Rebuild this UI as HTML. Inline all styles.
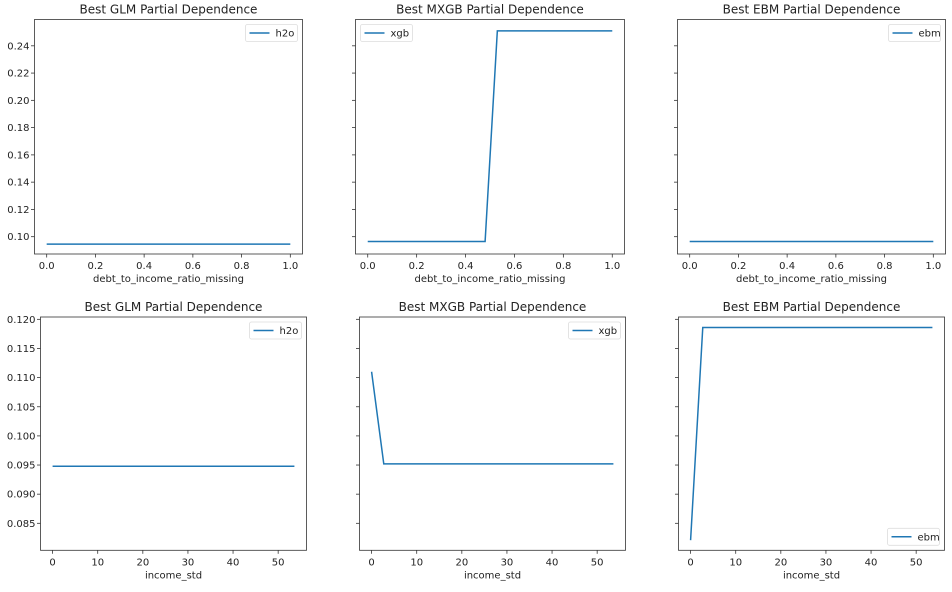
<!DOCTYPE html>
<html><head><meta charset="utf-8"><style>
body{margin:0;background:#fff;}
svg text{font-family:"DejaVu Sans","Liberation Sans",sans-serif;fill:#222;}
</style></head><body>
<svg id="fig" width="952" height="587" xmlns="http://www.w3.org/2000/svg"></svg>
<script>
const titles = ["Best GLM Partial Dependence","Best MXGB Partial Dependence","Best EBM Partial Dependence","Best GLM Partial Dependence","Best MXGB Partial Dependence","Best EBM Partial Dependence"];
const seriesNames = ["h2o","xgb","ebm","h2o","xgb","ebm"];
const xLabels = ["debt_to_income_ratio_missing","debt_to_income_ratio_missing","debt_to_income_ratio_missing","income_std","income_std","income_std"];
const glmTopX = [0, 1];
const glmTopY = [0.0945, 0.0945];
const xgbTopX = [0, 0.48, 0.53, 1];
const xgbTopY = [0.0965, 0.0965, 0.251, 0.251];
const ebmTopX = [0, 1];
const ebmTopY = [0.0965, 0.0965];
const glmBotX = [0, 53.6];
const glmBotY = [0.0948, 0.0948];
const xgbBotX = [0, 2.7, 53.6];
const xgbBotY = [0.111, 0.0952, 0.0952];
const ebmBotX = [0, 2.7, 53.6];
const ebmBotY = [0.0821, 0.1186, 0.1186];
const topXTicks = [0, 0.2, 0.4, 0.6, 0.8, 1.0];
const topXTickLabels = ["0.0","0.2","0.4","0.6","0.8","1.0"];
const topYTicks = [0.10,0.12,0.14,0.16,0.18,0.20,0.22,0.24];
const topYTickLabels = ["0.10","0.12","0.14","0.16","0.18","0.20","0.22","0.24"];
const botXTicks = [0,10,20,30,40,50];
const botXTickLabels = ["0","10","20","30","40","50"];
const botYTicks = [0.085,0.090,0.095,0.100,0.105,0.110,0.115,0.120];
const botYTickLabels = ["0.085","0.090","0.095","0.100","0.105","0.110","0.115","0.120"];

const NS="http://www.w3.org/2000/svg";
const svg=document.getElementById('fig');
function mk(tag,attrs,parent){const e=document.createElementNS(NS,tag);for(const k in attrs)e.setAttribute(k,attrs[k]);(parent||svg).appendChild(e);return e;}

const panels=[
 {l:34.5,t:19.5,w:268,h:234.5,xd:[-0.05,1.05],yd:[0.0873,0.2593],xs:glmTopX,ys:glmTopY,xt:topXTicks,xtl:topXTickLabels,yt:topYTicks,ytl:topYTickLabels,showY:true,leg:'tr'},
 {l:355.5,t:19.5,w:269,h:234.5,xd:[-0.05,1.05],yd:[0.0873,0.2593],xs:xgbTopX,ys:xgbTopY,xt:topXTicks,xtl:topXTickLabels,yt:topYTicks,ytl:topYTickLabels,showY:false,leg:'tl'},
 {l:677.5,t:19.5,w:268,h:234.5,xd:[-0.05,1.05],yd:[0.0873,0.2593],xs:ebmTopX,ys:ebmTopY,xt:topXTicks,xtl:topXTickLabels,yt:topYTicks,ytl:topYTickLabels,showY:false,leg:'tr'},
 {l:40.5,t:317,w:266,h:233.3,xd:[-2.68,56.28],yd:[0.08037,0.1204],xs:glmBotX,ys:glmBotY,xt:botXTicks,xtl:botXTickLabels,yt:botYTicks,ytl:botYTickLabels,showY:true,leg:'tr'},
 {l:359.5,t:317,w:266,h:233.3,xd:[-2.68,56.28],yd:[0.08037,0.1204],xs:xgbBotX,ys:xgbBotY,xt:botXTicks,xtl:botXTickLabels,yt:botYTicks,ytl:botYTickLabels,showY:false,leg:'tr'},
 {l:678.5,t:317,w:266,h:233.3,xd:[-2.68,56.28],yd:[0.08037,0.1204],xs:ebmBotX,ys:ebmBotY,xt:botXTicks,xtl:botXTickLabels,yt:botYTicks,ytl:botYTickLabels,showY:false,leg:'br'}
];

panels.forEach((p,i)=>{
  const g=mk('g',{});
  
  
  const sx=v=>p.l+(v-p.xd[0])/(p.xd[1]-p.xd[0])*p.w;
  const sy=v=>p.t+p.h-(v-p.yd[0])/(p.yd[1]-p.yd[0])*p.h;
  const t=mk('text',{x:p.l+p.w/2,y:p.t-6,'text-anchor':'middle','font-size':12},g);t.textContent=titles[i];
  
  
  // x ticks
  p.xt.forEach((v,j)=>{
    const x=sx(v);
    mk('line',{x1:x,x2:x,y1:p.t+p.h,y2:p.t+p.h+3.5,stroke:'#333','stroke-width':0.8},g);
    const tl=mk('text',{x:x,y:p.t+p.h+15,'text-anchor':'middle','font-size':10},g);tl.textContent=p.xtl[j];
    
    
  });
  p.yt.forEach((v,j)=>{
    const y=sy(v);
    mk('line',{x1:p.l,x2:p.l-3.5,y1:y,y2:y,stroke:'#333','stroke-width':0.8},g);
    if(p.showY){
      const tl=mk('text',{x:p.l-5,y:y+3.5,'text-anchor':'end','font-size':10},g);tl.textContent=p.ytl[j];
      
      
    }
  });
  const xl=mk('text',{x:p.l+p.w/2,y:p.t+p.h+28,'text-anchor':'middle','font-size':10},g);xl.textContent=xLabels[i];
  
  
  const d=p.xs.map((v,k)=>(k?'L':'M')+sx(v).toFixed(2)+' '+sy(p.ys[k]).toFixed(2)).join(' ');
  const path=mk('path',{d:d,fill:'none',stroke:'#1f77b4','stroke-width':1.5},g);
  
  
  mk('rect',{x:p.l,y:p.t,width:p.w,height:p.h,fill:'none',stroke:'#333','stroke-width':0.8},g);
  // legend
  const lw=seriesNames[i]==='xgb'?52:52, lh=17;
  let lx,ly;
  if(p.leg==='tr'){lx=p.l+p.w-5-lw;ly=p.t+5;}
  else if(p.leg==='tl'){lx=p.l+5;ly=p.t+5;}
  else {lx=p.l+p.w-5-lw;ly=p.t+p.h-5-lh;}
  const lg=mk('g',{},g);
  
  
  mk('rect',{x:lx,y:ly,width:lw,height:lh,rx:2,fill:'#fff',stroke:'#ddd','stroke-width':0.8},lg);
  mk('line',{x1:lx+4,x2:lx+24,y1:ly+lh/2,y2:ly+lh/2,stroke:'#1f77b4','stroke-width':1.5},lg);
  const lt=mk('text',{x:lx+30,y:ly+lh/2+3.5,'font-size':10},lg);lt.textContent=seriesNames[i];
  
  
});
</script>
</body></html>
